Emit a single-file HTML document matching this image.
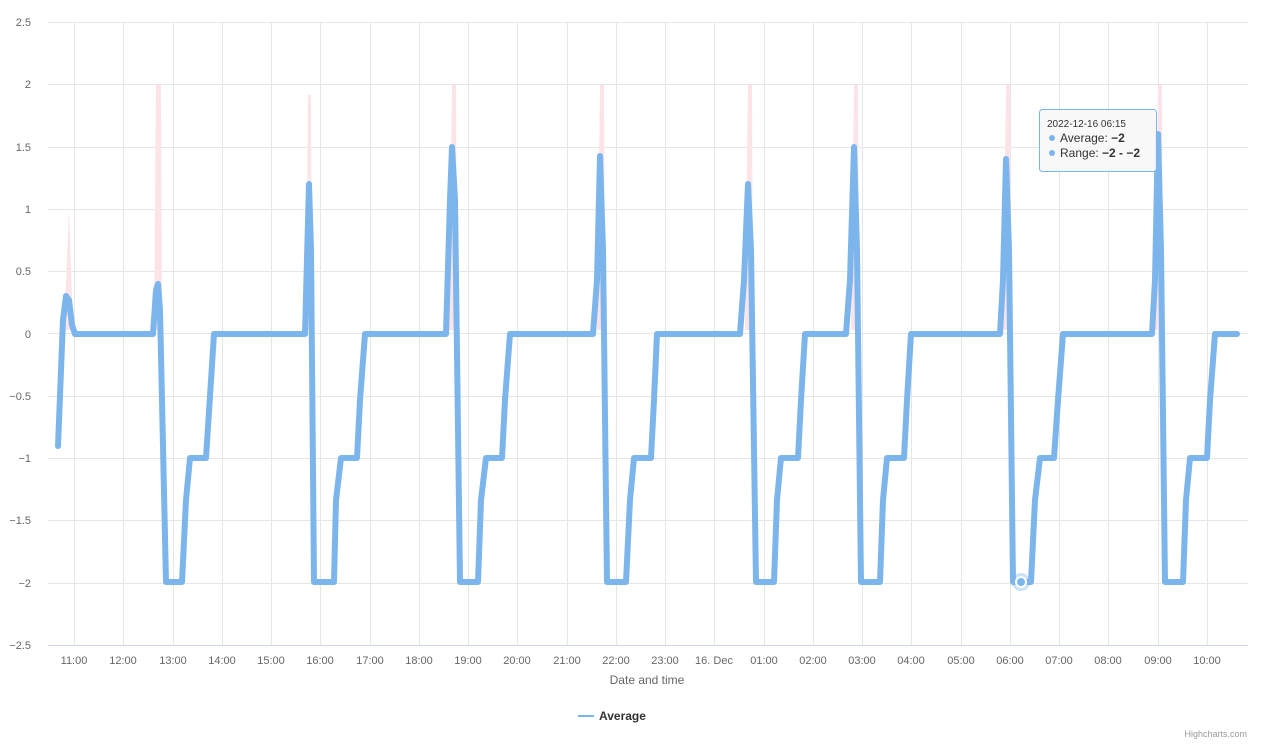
<!DOCTYPE html>
<html><head><meta charset="utf-8"><style>
body{margin:0;background:#fff;font-family:"Liberation Sans","DejaVu Sans",sans-serif}
svg text{font-family:"Liberation Sans","DejaVu Sans",sans-serif}
</style></head><body>
<svg width="1268" height="750" xmlns="http://www.w3.org/2000/svg">
<rect width="1268" height="750" fill="#fff"/>
<g stroke="#e6e6e6" stroke-width="1">
<line x1="48" x2="1248" y1="22.5" y2="22.5"/><line x1="48" x2="1248" y1="84.5" y2="84.5"/><line x1="48" x2="1248" y1="147.5" y2="147.5"/><line x1="48" x2="1248" y1="209.5" y2="209.5"/><line x1="48" x2="1248" y1="271.5" y2="271.5"/><line x1="48" x2="1248" y1="333.5" y2="333.5"/><line x1="48" x2="1248" y1="396.5" y2="396.5"/><line x1="48" x2="1248" y1="458.5" y2="458.5"/><line x1="48" x2="1248" y1="520.5" y2="520.5"/><line x1="48" x2="1248" y1="583.5" y2="583.5"/>
<line x1="74.5" x2="74.5" y1="22" y2="645"/><line x1="123.5" x2="123.5" y1="22" y2="645"/><line x1="173.5" x2="173.5" y1="22" y2="645"/><line x1="222.5" x2="222.5" y1="22" y2="645"/><line x1="271.5" x2="271.5" y1="22" y2="645"/><line x1="320.5" x2="320.5" y1="22" y2="645"/><line x1="370.5" x2="370.5" y1="22" y2="645"/><line x1="419.5" x2="419.5" y1="22" y2="645"/><line x1="468.5" x2="468.5" y1="22" y2="645"/><line x1="517.5" x2="517.5" y1="22" y2="645"/><line x1="567.5" x2="567.5" y1="22" y2="645"/><line x1="616.5" x2="616.5" y1="22" y2="645"/><line x1="665.5" x2="665.5" y1="22" y2="645"/><line x1="714.5" x2="714.5" y1="22" y2="645"/><line x1="764.5" x2="764.5" y1="22" y2="645"/><line x1="813.5" x2="813.5" y1="22" y2="645"/><line x1="862.5" x2="862.5" y1="22" y2="645"/><line x1="911.5" x2="911.5" y1="22" y2="645"/><line x1="961.5" x2="961.5" y1="22" y2="645"/><line x1="1010.5" x2="1010.5" y1="22" y2="645"/><line x1="1059.5" x2="1059.5" y1="22" y2="645"/><line x1="1108.5" x2="1108.5" y1="22" y2="645"/><line x1="1158.5" x2="1158.5" y1="22" y2="645"/><line x1="1207.5" x2="1207.5" y1="22" y2="645"/>
</g>
<line x1="48" x2="1248" y1="645.5" y2="645.5" stroke="#ccd6eb"/>
<g fill="#fbe3e8">
<polygon points="64,330 69,209 73,330"/>
<polygon points="154,330 156,85 161,85 162,330"/>
<polygon points="306,330 308,95 311,95 312,330"/>
<polygon points="449,330 452,85 456,85 457,330"/>
<polygon points="597,330 600,85 604,85 605,330"/>
<polygon points="745,330 748,85 752,85 753,330"/>
<polygon points="851,330 854,85 858,85 859,330"/>
<polygon points="1003,330 1006,85 1010,85 1011,330"/>
<polygon points="1155,330 1158,85 1162,85 1163,330"/>
</g>
<path fill="none" stroke="#7cb5ec" stroke-width="6" stroke-linejoin="round" stroke-linecap="round" d="M58,446 L63,320 L66,296 L69,300 L72,325 L75,334 L153,334 L156,290 L158,284 L160,310 L166,582 L182,582 L186,500 L190,458 L206,458 L214,334 L305,334 L309,184 L311,250 L314,582 L334,582 L336,500 L341,458 L357,458 L360,400 L365,334 L446,334 L450,200 L452,147 L455,200 L460,582 L478,582 L481,500 L486,458 L502,458 L505,400 L510,334 L593,334 L597,280 L600,156 L603,250 L607,582 L626,582 L630,500 L634,458 L651,458 L654,400 L657,334 L740,334 L744,280 L748,184 L751,250 L756,582 L774,582 L777,500 L781,458 L798,458 L801,400 L805,334 L846,334 L850,280 L854,147 L857,250 L861,582 L880,582 L883,500 L887,458 L904,458 L907,400 L911,334 L1000,334 L1003,280 L1006,159 L1009,250 L1013,582 L1031,582 L1035,500 L1040,458 L1054,458 L1058,400 L1063,334 L1152,334 L1155,280 L1158,134 L1161,250 L1165,582 L1183,582 L1186,500 L1190,458 L1207,458 L1210,400 L1215,334 L1237,334"/>
<circle cx="1021" cy="582" r="9" fill="#7cb5ec" opacity="0.4"/>
<circle cx="1021" cy="582" r="5" fill="#7cb5ec" stroke="#fff" stroke-width="2"/>
<g font-size="11" fill="#666" text-anchor="end">
<text x="31" y="26">2.5</text><text x="31" y="88">2</text><text x="31" y="151">1.5</text><text x="31" y="213">1</text><text x="31" y="275">0.5</text><text x="31" y="338">0</text><text x="31" y="400">−0.5</text><text x="31" y="462">−1</text><text x="31" y="524">−1.5</text><text x="31" y="587">−2</text><text x="31" y="649">−2.5</text>
</g>
<g font-size="11" fill="#666" text-anchor="middle">
<text x="74" y="664">11:00</text><text x="123" y="664">12:00</text><text x="173" y="664">13:00</text><text x="222" y="664">14:00</text><text x="271" y="664">15:00</text><text x="320" y="664">16:00</text><text x="370" y="664">17:00</text><text x="419" y="664">18:00</text><text x="468" y="664">19:00</text><text x="517" y="664">20:00</text><text x="567" y="664">21:00</text><text x="616" y="664">22:00</text><text x="665" y="664">23:00</text><text x="714" y="664">16. Dec</text><text x="764" y="664">01:00</text><text x="813" y="664">02:00</text><text x="862" y="664">03:00</text><text x="911" y="664">04:00</text><text x="961" y="664">05:00</text><text x="1010" y="664">06:00</text><text x="1059" y="664">07:00</text><text x="1108" y="664">08:00</text><text x="1158" y="664">09:00</text><text x="1207" y="664">10:00</text>
</g>
<text x="647" y="684" font-size="12" fill="#666" text-anchor="middle">Date and time</text>
<line x1="578" x2="594" y1="716" y2="716" stroke="#7cb5ec" stroke-width="2"/>
<text x="599" y="720" font-size="12" font-weight="bold" fill="#333">Average</text>
<text x="1247" y="737" font-size="9" fill="#999" text-anchor="end">Highcharts.com</text>
<rect x="1039.5" y="109.5" width="117" height="62" rx="3" fill="#f7f7f7" fill-opacity="0.9" stroke="#7cb5ec"/>
<text x="1047" y="127" font-size="10" fill="#333">2022-12-16 06:15</text>
<circle cx="1052" cy="138" r="3" fill="#7cb5ec"/><text x="1060" y="142" font-size="12" fill="#333">Average: <tspan font-weight="bold">−2</tspan></text>
<circle cx="1052" cy="153" r="3" fill="#7cb5ec"/><text x="1060" y="157" font-size="12" fill="#333">Range: <tspan font-weight="bold">−2 - −2</tspan></text>
</svg>
</body></html>
